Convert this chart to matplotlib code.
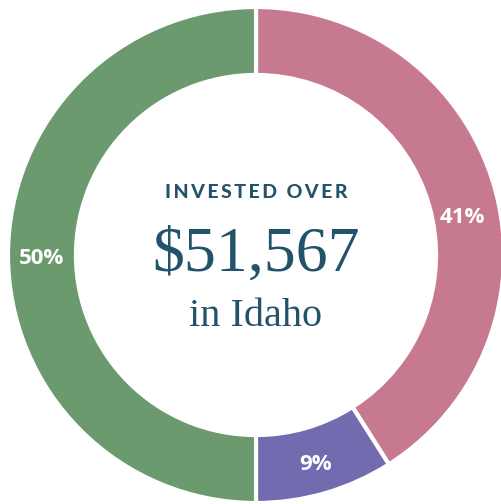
import numpy as np
import matplotlib.pyplot as plt

shares = [41, 9, 50]
colors = ['#c77a8f', '#736bb0', '#6a9a6e']
headline = 'INVESTED OVER'
amount = '$51,567'
place = 'in Idaho'
ink = '#22536a'

fig = plt.figure(figsize=(5.01, 5.04), dpi=100)
ax = fig.add_axes([0, 0, 1, 1])

# ring centred at pixel (256, 255), outer radius 248 px
px = 248.0

wedges, texts, autotexts = ax.pie(
    shares, colors=colors, startangle=90, counterclock=False,
    radius=1.0, autopct='%d%%', pctdistance=0.863,
    wedgeprops=dict(width=0.274, edgecolor='white', linewidth=3),
    textprops=dict(color='white', fontsize=16, fontweight='bold', family='Open Sans'))
ax.set_xlim(-256 / px, (501 - 256) / px)
ax.set_ylim(-(504 - 255) / px, 255 / px)
ax.set_aspect('equal')
ax.axis('off')

# nudge the 41% label down a little
a = np.deg2rad(11.3)
autotexts[0].set_position((0.85 * np.cos(a), 0.85 * np.sin(a)))
# Open Sans sits high in its box; drop the labels a few pixels
for t in autotexts:
    x, y = t.get_position()
    t.set_position((x, y - 4 / px))

spaced = '\u2009'.join(headline)
ax.text(0, (255 - 192) / px, spaced, ha='center', va='center',
        color=ink, fontsize=14, fontweight='black', family=['Lato', 'DejaVu Sans'])
ax.text(0, (255 - 256) / px, amount, ha='center', va='center',
        color=ink, fontsize=46, family='Liberation Serif')
ax.text(0, (255 - 317) / px, place, ha='center', va='center',
        color=ink, fontsize=29, family='Liberation Serif')

fig.savefig('out.png', dpi=100)
